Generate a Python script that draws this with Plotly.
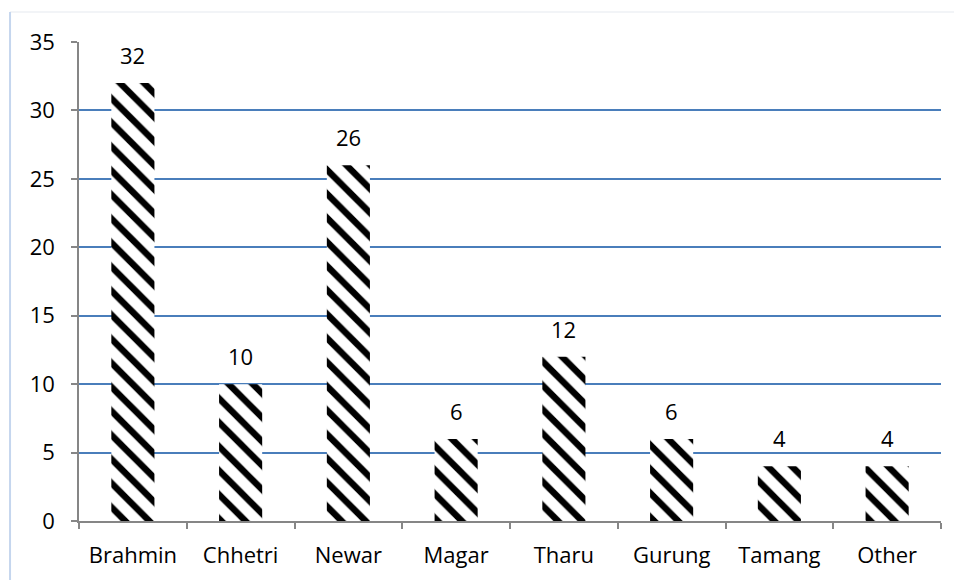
import plotly.graph_objects as go

categories = ["Brahmin", "Chhetri", "Newar", "Magar", "Tharu", "Gurung", "Tamang", "Other"]
values = [32, 10, 26, 6, 12, 6, 4, 4]
y_ticks = [0, 5, 10, 15, 20, 25, 30, 35]

FONT = "Open Sans"
fig = go.Figure()
fig.add_trace(go.Bar(
    x=categories, y=values,
    marker=dict(color="white", line=dict(width=0),
                pattern=dict(shape="\\", fgcolor="black", bgcolor="white",
                             size=17, solidity=0.38, fillmode="replace")),
    hoverinfo="skip",
))
for c, v in zip(categories, values):
    fig.add_annotation(x=c, y=v, text=str(v), showarrow=False, yanchor="bottom",
                       yshift=11, font=dict(family=FONT, size=22, color="black"))

# outer chart border
fig.add_shape(type="line", xref="paper", yref="paper", x0=-0.08, x1=1.02, y0=1.0626, y1=1.0626,
              line=dict(color="#eef0f4", width=1.5))
fig.add_shape(type="line", xref="paper", yref="paper", x0=-0.08, x1=-0.08, y0=1.0626, y1=-0.2,
              line=dict(color="#c5d6ee", width=2))

fig.update_layout(
    width=954, height=580,
    margin=dict(l=79, r=13, t=42, b=59),
    paper_bgcolor="white", plot_bgcolor="white",
    showlegend=False, bargap=0.6,
    font=dict(family=FONT, size=22, color="black"),
    xaxis=dict(showline=True, linecolor="#868686", linewidth=1.5,
               ticks="outside", ticklen=6, tickcolor="#868686", tickwidth=1.5,
               tickson="boundaries", showgrid=False, zeroline=False,
               tickfont=dict(family=FONT, size=22, color="black"), ticklabelstandoff=14),
    yaxis=dict(range=[0, 35], tickvals=y_ticks, showline=True, linecolor="#868686",
               linewidth=1.5, ticks="outside", ticklen=6, tickcolor="#868686", tickwidth=1.5,
               showgrid=True, gridcolor="#4a7ebb", gridwidth=1.5, zeroline=False,
               tickfont=dict(family=FONT, size=22, color="black"), ticklabelstandoff=12),
)
fig.write_html("out.html")
